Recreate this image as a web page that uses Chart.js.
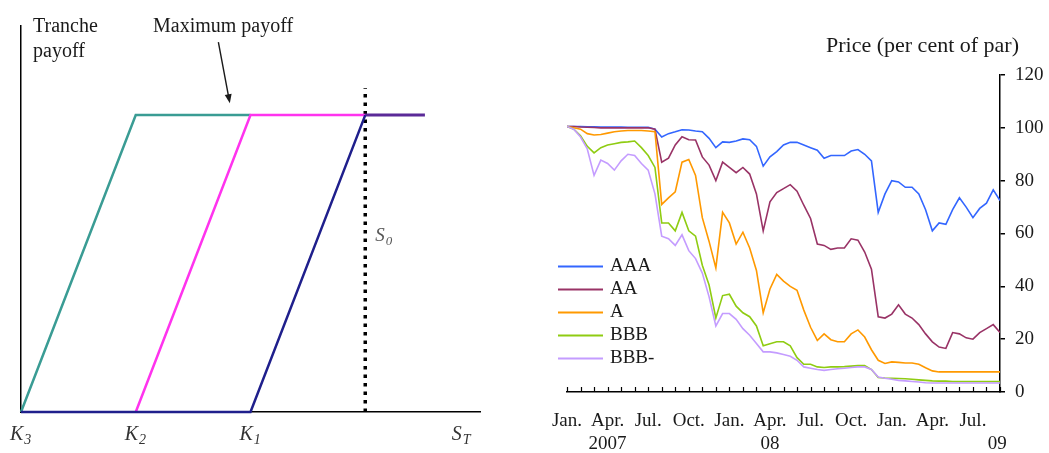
<!DOCTYPE html>
<html lang="en">
<head>
<meta charset="UTF-8">
<title>Tranche payoff and price by rating</title>
<script src="https://cdn.jsdelivr.net/npm/chart.js"></script>
<style>
    body { margin: 0; background: #fff; }
    canvas { position: absolute; top: 0; }
    #payoffChart { left: 0; }
    #priceChart { left: 490px; }
</style>
</head>
<body>
<canvas id="payoffChart" width="490" height="453"></canvas>
<canvas id="priceChart" width="559" height="453"></canvas>
<script>
// ---- left panel: tranche payoffs, x in strike steps (K3=0, K2=1, K1=2, S0=3), y as share of max payoff
const tealX = [0, 1, 2];        const tealY = [0, 1, 1];
const magentaX = [1, 2, 3];     const magentaY = [0, 1, 1];
const navyX = [0, 2, 3];        const navyY = [0, 0, 1];
const capX = [3, 3.52];         const capY = [1, 1];
const spotX = [3, 3];           const spotY = [0, 1.09];
const strikePos = [0, 1, 2, 3.85];
const strikeMain = ['K', 'K', 'K', 'S'];
const strikeSub = ['3', '2', '1', 'T'];

// ---- right panel: price, per cent of par, every half month from Jan. 2007
const months = [0, 0.5, 1, 1.5, 2, 2.5, 3, 3.5, 4, 4.5, 5, 5.5, 6, 6.5, 7, 7.5, 8, 8.5, 9, 9.5,
    10, 10.5, 11, 11.5, 12, 12.5, 13, 13.5, 14, 14.5, 15, 15.5, 16, 16.5, 17, 17.5, 18, 18.5, 19, 19.5,
    20, 20.5, 21, 21.5, 22, 22.5, 23, 23.5, 24, 24.5, 25, 25.5, 26, 26.5, 27, 27.5, 28, 28.5, 29, 29.5,
    30, 30.5, 31, 31.5, 32];
const aaa = [100.5, 100.5, 100.5, 100.4, 100.4, 100.3, 100.3, 100.3, 100.3, 100.2, 100.2, 100.2, 100.2, 99.5,
    96.5, 97.8, 98.5, 99.3, 99.2, 98.8, 98.5, 96, 92.5, 94.7, 94.5, 95, 95.8, 95.5, 93, 85.5, 89, 91,
    93.5, 94.5, 94.5, 93.5, 92.5, 91.5, 88.5, 89.5, 89.5, 89.5, 91.2, 91.8, 90, 87.5, 68, 75, 80, 79.5,
    77.5, 77.5, 75, 69, 61, 64, 63.5, 69, 73.5, 70, 66, 69.5, 71.5, 76.5, 72.5];
const aa = [100.5, 100.5, 100.3, 100.2, 100.1, 100, 100, 100, 100, 100, 100, 100, 100, 99.5,
    87, 88.5, 93.5, 96.6, 95.5, 95.4, 89, 85.9, 80, 87, 85, 83, 85, 82.5, 75, 61, 72, 75.5,
    77, 78.5, 76, 70.7, 65.7, 56, 55.5, 54, 54.5, 54.5, 58, 57.5, 53, 46.5, 28.5, 28, 29.5, 33,
    29.5, 28, 25.5, 22, 19, 17, 16.5, 22.5, 22, 20.5, 20, 22.5, 24, 25.5, 22.5];
const singleA = [100.5, 100, 99.5, 97.8, 97.3, 97.5, 98, 98.5, 98.8, 99, 99, 99, 98.8, 98.5,
    71, 73.5, 75.8, 87, 88, 82, 66, 57, 47, 68, 64, 56, 60.5, 54.5, 46, 30, 39, 44.5,
    42, 40, 38.5, 31, 24.5, 19.5, 22, 19.8, 19, 19, 22, 23.5, 20.8, 16, 12, 10.8, 11.4, 11.2,
    11, 11, 10.5, 9.2, 8, 7.6, 7.6, 7.6, 7.6, 7.6, 7.6, 7.6, 7.6, 7.6, 7.6];
const bbb = [100.5, 99.5, 97, 93, 90.5, 92.5, 93.5, 94, 94.5, 94.7, 95, 92.5, 89.5, 85,
    64, 64, 61, 68, 61, 59, 48, 40.5, 28, 36.5, 37, 32.5, 30, 28.5, 25, 17.5, 18.3, 19,
    19, 17.5, 13, 10.5, 10.5, 9.5, 9.3, 9.5, 9.5, 9.6, 9.8, 10, 10, 8.5, 5.5, 5.3, 5.2, 5.1,
    5, 4.8, 4.6, 4.4, 4.2, 4.1, 4.1, 4, 4, 4, 4, 4, 4, 4, 4];
const bbbMinus = [100.5, 99.5, 96.5, 92, 82, 87.8, 86.5, 84, 87.5, 90, 89.5, 86.5, 84, 75,
    59, 58, 55.5, 59.5, 53.5, 50.5, 45, 36, 25, 29.7, 29.7, 27.5, 24, 21.5, 18.4, 15.2, 15.2, 14.8,
    14.2, 13.5, 12, 9.5, 9, 8.5, 8.2, 8.5, 8.8, 9, 9.3, 9.5, 9.5, 8.5, 5.7, 5.2, 4.8, 4.4,
    4.2, 4, 3.8, 3.5, 3.4, 3.4, 3.4, 3.4, 3.4, 3.4, 3.4, 3.4, 3.4, 3.4, 3.4];
const seriesNames = ['AAA', 'AA', 'A', 'BBB', 'BBB-'];
const seriesColors = ['#3366ff', '#993366', '#ff9900', '#8fcc12', '#c49cff'];
const tickMonths = [0, 3, 6, 9, 12, 15, 18, 21, 24, 27, 30, 31.8];
const tickMonthNames = ['Jan.', 'Apr.', 'Jul.', 'Oct.', 'Jan.', 'Apr.', 'Jul.', 'Oct.', 'Jan.', 'Apr.', 'Jul.', ''];
const tickYears = ['', '2007', '', '', '', '08', '', '', '', '', '', '09'];

const SERIF = '"Liberation Serif", "Times New Roman", serif';
const INK = '#1a1a1a';
Chart.defaults.font.family = SERIF;
Chart.defaults.color = INK;

function pts(xs, ys) {
    return xs.map((x, i) => ({ x: x, y: ys[i] }));
}

function drawSub(ctx, main, sub, x, y, size) {
    ctx.font = 'italic ' + size + 'px ' + SERIF;
    ctx.fillText(main, x, y);
    const w = ctx.measureText(main).width;
    ctx.font = 'italic ' + Math.round(size * 0.68) + 'px ' + SERIF;
    ctx.fillText(sub, x + w + 1, y + 4);
}

// text, arrow and strike labels on the payoff panel
const payoffText = {
    id: 'payoffText',
    afterDraw(chart) {
        const { ctx, scales: { x, y } } = chart;
        ctx.save();
        ctx.fillStyle = INK;
        ctx.strokeStyle = INK;
        ctx.textBaseline = 'alphabetic';
        ctx.font = '20px ' + SERIF;
        ctx.fillText('Tranche', 33, 32);
        ctx.fillText('payoff', 33, 57);
        ctx.fillText('Maximum payoff', 153, 32);

        // arrow pointing at the flat part
        const x0 = x.getPixelForValue(1.72), y0 = y.getPixelForValue(1.246);
        const x1 = x.getPixelForValue(1.82), y1 = y.getPixelForValue(1.04);
        const ang = Math.atan2(y1 - y0, x1 - x0);
        ctx.lineWidth = 1.4;
        ctx.beginPath();
        ctx.moveTo(x0, y0);
        ctx.lineTo(x1 - 7 * Math.cos(ang), y1 - 7 * Math.sin(ang));
        ctx.stroke();
        ctx.beginPath();
        ctx.moveTo(x1, y1);
        ctx.lineTo(x1 - 9 * Math.cos(ang) + 3.5 * Math.sin(ang), y1 - 9 * Math.sin(ang) - 3.5 * Math.cos(ang));
        ctx.lineTo(x1 - 9 * Math.cos(ang) - 3.5 * Math.sin(ang), y1 - 9 * Math.sin(ang) + 3.5 * Math.cos(ang));
        ctx.closePath();
        ctx.fill();

        ctx.fillStyle = '#333';
        strikePos.forEach((v, i) => {
            drawSub(ctx, strikeMain[i], strikeSub[i], x.getPixelForValue(v) - 11, 440, 20);
        });
        ctx.fillStyle = '#555';
        drawSub(ctx, 'S', '0', x.getPixelForValue(3) + 10, 241, 19);
        ctx.restore();
    }
};

new Chart(document.getElementById('payoffChart'), {
    type: 'line',
    data: {
        datasets: [
            { data: pts(navyX, navyY), borderColor: '#1f1f8c', borderWidth: 2.5 },
            { data: pts(capX, capY), borderColor: '#5b2a98', borderWidth: 3 },
            { data: pts(magentaX, magentaY), borderColor: '#ff33ee', borderWidth: 2.5 },
            { data: pts(tealX, tealY), borderColor: '#3a9c94', borderWidth: 2.5 },
            { data: pts(spotX, spotY), borderColor: '#000', borderWidth: 3.5, borderDash: [3.5, 5] }
        ]
    },
    options: {
        responsive: false,
        animation: false,
        devicePixelRatio: 1,
        layout: { padding: { left: 21, right: 10, top: 26, bottom: 41 } },
        elements: { point: { radius: 0 }, line: { tension: 0 } },
        datasets: { line: { clip: false } },
        plugins: { legend: { display: false }, tooltip: { enabled: false } },
        scales: {
            x: {
                type: 'linear', min: 0, max: 4,
                grid: { display: false },
                ticks: { display: false },
                border: { color: '#000', width: 1.5 },
                afterFit(s) { s.height = 0; }
            },
            y: {
                min: 0, max: 1.3,
                grid: { display: false },
                ticks: { display: false },
                border: { color: '#000', width: 1.5 },
                afterFit(s) { s.width = 0; }
            }
        }
    },
    plugins: [payoffText]
});

// monthly tick marks pointing up, the legend and the axis title
const priceExtras = {
    id: 'priceExtras',
    afterDraw(chart) {
        const { ctx, chartArea, scales: { x } } = chart;
        ctx.save();
        ctx.strokeStyle = '#000';
        ctx.lineWidth = 1.2;
        for (let m = 0; m <= 32; m++) {
            const px = Math.round(x.getPixelForValue(m)) + 0.5;
            ctx.beginPath();
            ctx.moveTo(px, chartArea.bottom);
            ctx.lineTo(px, chartArea.bottom - 5);
            ctx.stroke();
        }

        ctx.font = '19px ' + SERIF;
        ctx.textBaseline = 'middle';
        seriesNames.forEach((name, i) => {
            const yy = 266.5 + i * 23;
            ctx.strokeStyle = seriesColors[i];
            ctx.lineWidth = 2;
            ctx.beginPath();
            ctx.moveTo(chartArea.left - 9, yy);
            ctx.lineTo(chartArea.left + 36, yy);
            ctx.stroke();
            ctx.fillStyle = INK;
            ctx.fillText(name, chartArea.left + 43, yy);
        });

        ctx.textBaseline = 'alphabetic';
        ctx.font = '22px ' + SERIF;
        ctx.fillText('Price (per cent of par)', 336, 52);
        ctx.restore();
    }
};

const priceSeries = [aaa, aa, singleA, bbb, bbbMinus];

new Chart(document.getElementById('priceChart'), {
    type: 'line',
    data: {
        datasets: priceSeries.map((vals, i) => ({
            label: seriesNames[i],
            data: pts(months, vals),
            borderColor: seriesColors[i],
            borderWidth: 1.6
        })).reverse()
    },
    options: {
        responsive: false,
        animation: false,
        devicePixelRatio: 1,
        layout: { padding: { left: 77, top: 75, right: 0, bottom: 0 } },
        elements: { point: { radius: 0 }, line: { tension: 0 } },
        plugins: { legend: { display: false }, tooltip: { enabled: false } },
        scales: {
            x: {
                type: 'linear', min: 0, max: 32,
                grid: { drawOnChartArea: false, drawTicks: false },
                border: { color: '#000', width: 1.5 },
                afterBuildTicks(s) { s.ticks = tickMonths.map(v => ({ value: v })); },
                afterFit(s) { s.height = 61; },
                ticks: {
                    autoSkip: false, maxRotation: 0, padding: 18,
                    font: { size: 19, lineHeight: 1.2 },
                    callback: (v, i) => [tickMonthNames[i], tickYears[i]]
                }
            },
            y: {
                position: 'right', min: 0, max: 120,
                grid: { drawOnChartArea: false, tickLength: 5, color: '#000', lineWidth: 1.5 },
                border: { color: '#000', width: 1.5 },
                afterFit(s) { s.width = 49; },
                ticks: { stepSize: 20, padding: 10, font: { size: 19 } }
            }
        }
    },
    plugins: [priceExtras]
});
</script>
</body>
</html>
